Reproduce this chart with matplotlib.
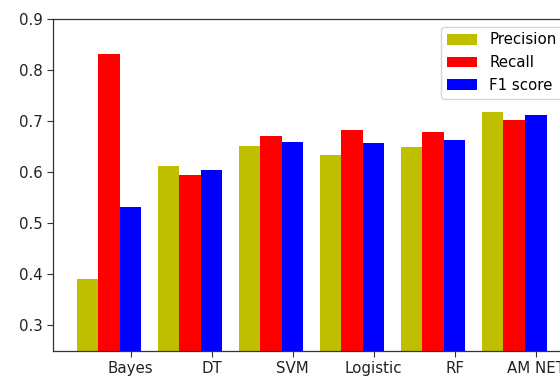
import numpy as np
import matplotlib
matplotlib.use("Agg")
import matplotlib.pyplot as plt

models = ["Bayes", "DT", "SVM", "Logistic", "RF", "AM NET"]
precision = [0.39, 0.613, 0.652, 0.634, 0.649, 0.717]
recall = [0.832, 0.595, 0.670, 0.682, 0.679, 0.703]
f1_score = [0.532, 0.604, 0.660, 0.658, 0.664, 0.712]

plt.rcParams.update({
    "font.size": 10.8,
    "font.family": "DejaVu Sans",
})

fig = plt.figure(figsize=(5.6, 3.77), dpi=100)
# axes runs past the right edge, like the cropped original
ax = fig.add_axes([53 / 560, 26 / 377, 517 / 560, 332 / 377])

x = np.arange(len(models))
w = 0.8 / 3
ax.bar(x - 2 * w, precision, w, color="y", label="Precision")
ax.bar(x - w, recall, w, color="r", label="Recall")
ax.bar(x, f1_score, w, color="b", label="F1 score")

ax.set_xticks(x)
ax.set_xticklabels(models)
ax.set_ylim(0.25, 0.9)
ax.set_yticks([0.3, 0.4, 0.5, 0.6, 0.7, 0.8, 0.9])
ax.tick_params(length=4, color="#333333", labelcolor="#222222")
for s in ax.spines.values():
    s.set_color("#333333")
    s.set_linewidth(0.9)

ax.legend(loc="upper right", framealpha=0.8, edgecolor="#cccccc")

fig.savefig("out.png", dpi=100)
